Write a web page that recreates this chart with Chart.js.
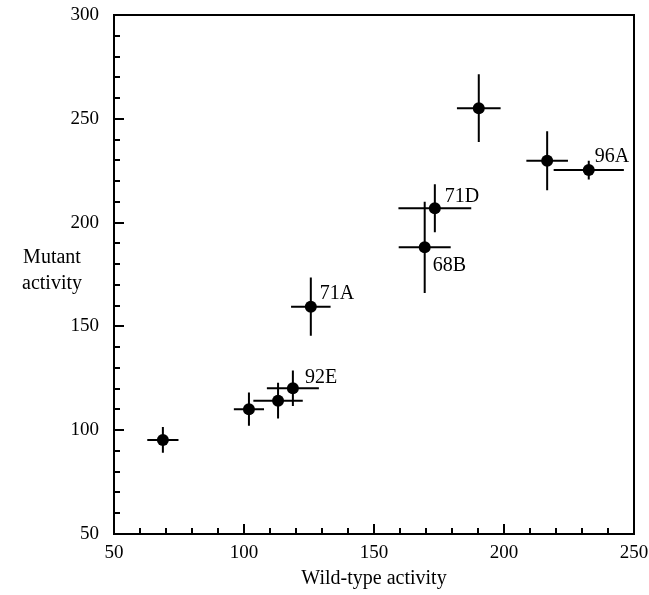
<!DOCTYPE html>
<html>
<head>
<meta charset="utf-8">
<script src="https://cdn.jsdelivr.net/npm/chart.js@4.4.1/dist/chart.umd.min.js"></script>
<style>
  html, body { margin: 0; padding: 0; background: #fff; }
  canvas { display: block; }
</style>
</head>
<body>
<canvas id="grafico" width="649" height="595"></canvas>
<script>
// values
var wildType    = [68.8, 101.9, 113.1, 118.8, 125.7, 169.5, 173.4, 190.3, 216.6, 232.6];
var wildTypeErr = [6, 5.8, 9.5, 10, 7.6, 10, 14, 8.4, 8, 13.5];
var mutant      = [95.3, 110.1, 114.2, 120.2, 159.5, 188.1, 206.9, 255.1, 229.8, 225.3];
var mutantErr   = [6.2, 8, 8.6, 8.5, 14, 22, 11.6, 16.3, 14.2, 4.5];
var names       = ["", "", "", "92E", "71A", "68B", "71D", "", "", "96A"];
var xTicks = [50, 100, 150, 200, 250];
var yTicks = [50, 100, 150, 200, 250, 300];

var serif = '"Liberation Serif", "Times New Roman", serif';

// where each name sits relative to its point (px)
var nameOffset = {
    "92E": [12, -11],
    "71A": [9, -13],
    "68B": [8, 18],
    "71D": [10, -12],
    "96A": [6, -13.5]
};

var errorBars = {
    id: 'errorBars',
    beforeDatasetsDraw: function (chart) {
        var xs = chart.scales.x, ys = chart.scales.y, c = chart.ctx;
        c.save();
        c.strokeStyle = '#000';
        c.lineWidth = 2;
        for (var i = 0; i < wildType.length; i++) {
            var px = xs.getPixelForValue(wildType[i]);
            var py = ys.getPixelForValue(mutant[i]);
            c.beginPath();
            c.moveTo(xs.getPixelForValue(wildType[i] - wildTypeErr[i]), py);
            c.lineTo(xs.getPixelForValue(wildType[i] + wildTypeErr[i]), py);
            c.moveTo(px, ys.getPixelForValue(mutant[i] + mutantErr[i]));
            c.lineTo(px, ys.getPixelForValue(mutant[i] - mutantErr[i]));
            c.stroke();
        }
        c.restore();
    }
};

var pointNames = {
    id: 'pointNames',
    afterDatasetsDraw: function (chart) {
        var xs = chart.scales.x, ys = chart.scales.y, c = chart.ctx;
        c.save();
        c.fillStyle = '#000';
        c.font = '20px ' + serif;
        c.textAlign = 'left';
        c.textBaseline = 'middle';
        for (var i = 0; i < names.length; i++) {
            if (!names[i]) continue;
            var off = nameOffset[names[i]] || [8, -12];
            c.fillText(names[i], xs.getPixelForValue(wildType[i]) + off[0], ys.getPixelForValue(mutant[i]) + off[1]);
        }
        c.restore();
    }
};

// box round the plot, inward ticks on left and bottom, horizontal y title
var frame = {
    id: 'frame',
    afterDraw: function (chart) {
        var a = chart.chartArea, xs = chart.scales.x, ys = chart.scales.y, c = chart.ctx;
        c.save();
        c.strokeStyle = '#000';
        c.lineWidth = 2;
        c.strokeRect(a.left, a.top, a.right - a.left, a.bottom - a.top);
        c.beginPath();
        for (var v = xs.min; v <= xs.max; v += 10) {
            var x = Math.round(xs.getPixelForValue(v));
            var len = v % 50 === 0 ? 10 : 6;
            c.moveTo(x, a.bottom);
            c.lineTo(x, a.bottom - len);
        }
        for (var w = ys.min; w <= ys.max; w += 10) {
            var y = Math.round(ys.getPixelForValue(w));
            var l = w % 50 === 0 ? 10 : 6;
            c.moveTo(a.left, y);
            c.lineTo(a.left + l, y);
        }
        c.stroke();

        c.fillStyle = '#000';
        c.font = '20px ' + serif;
        c.textAlign = 'center';
        c.textBaseline = 'middle';
        c.fillText('Mutant', a.left - 62, a.top + 243);
        c.fillText('activity', a.left - 62, a.top + 269);
        c.restore();
    }
};

var ctx = document.getElementById('grafico').getContext('2d');
var grafico = new Chart(ctx, {
    type: 'scatter',
    data: {
        datasets: [{
            data: wildType.map(function (x, i) { return { x: x, y: mutant[i] }; }),
            pointRadius: 6,
            pointHoverRadius: 6,
            backgroundColor: '#000',
            borderColor: '#000',
            borderWidth: 0
        }]
    },
    options: {
        responsive: false,
        animation: false,
        devicePixelRatio: 1,
        layout: { padding: { left: 0, top: 15, right: 15, bottom: 0 } },
        plugins: { legend: { display: false }, tooltip: { enabled: false } },
        scales: {
            x: {
                type: 'linear',
                min: 50,
                max: 250,
                afterBuildTicks: function (s) { s.ticks = xTicks.map(function (v) { return { value: v }; }); },
                afterFit: function (s) { s.height = 61; s.paddingLeft = 0; s.paddingRight = 0; },
                grid: { display: false, drawTicks: false },
                border: { display: false },
                ticks: { color: '#000', font: { family: serif, size: 19 }, padding: 8, maxRotation: 0 },
                title: { display: true, text: 'Wild-type activity', color: '#000', font: { family: serif, size: 20 }, padding: { top: 2, bottom: 4 } }
            },
            y: {
                type: 'linear',
                min: 50,
                max: 300,
                afterBuildTicks: function (s) { s.ticks = yTicks.map(function (v) { return { value: v }; }); },
                afterFit: function (s) { s.width = 114; s.paddingTop = 0; s.paddingBottom = 0; },
                grid: { display: false, drawTicks: false },
                border: { display: false },
                ticks: { color: '#000', font: { family: serif, size: 19 }, padding: 15 }
            }
        }
    },
    plugins: [errorBars, pointNames, frame]
});
</script>
</body>
</html>
